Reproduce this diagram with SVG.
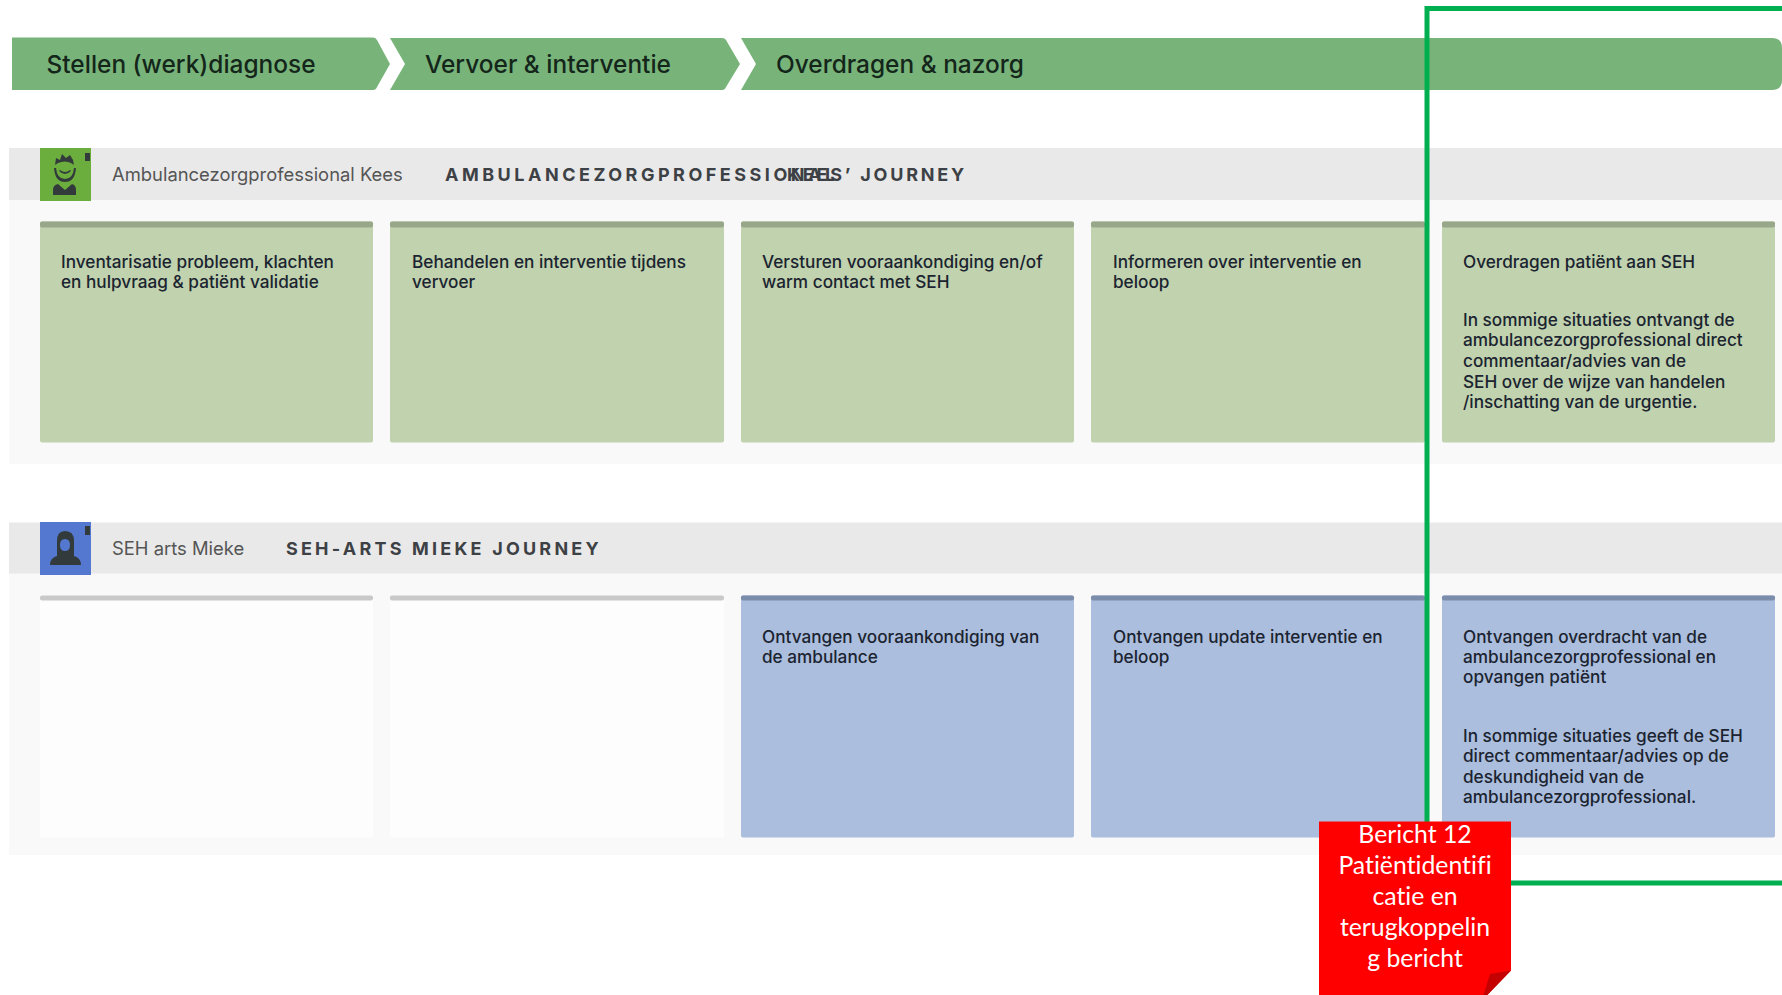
<svg xmlns="http://www.w3.org/2000/svg" width="1782" height="995" viewBox="0 0 1782 995">
<style>
.phase{fill:#78b47a}
.phase-t{font:500 24.450px Inter,"Liberation Sans",sans-serif;fill:#14261a}
.band{fill:#e9e9e9}
.lane{fill:#f9f9f9}
.role{font:400 18.400px Inter,"Liberation Sans",sans-serif;fill:#555}
.jour{font:700 18px Inter,"Liberation Sans",sans-serif;fill:#3d4145;letter-spacing:3.2px}
.c{font:500 17.200px Inter,"Liberation Sans",sans-serif;fill:#1b2430}
.g{fill:#c0d2ae}.gt{fill:#98a68a}
.b{fill:#abbedd}.bt{fill:#7c8cab}
.e{fill:#fdfdfd}.et{fill:#c9c9c9}
.ic{fill:#333a3c}
.note{font:400 24.800px Lato,"Open Sans",sans-serif;fill:#fff;text-anchor:middle;font-variant-ligatures:none}
</style>
<rect width="1782" height="995" fill="#fff"/>
<g id="phase-1"><path class="phase" d="M12 37.500H373Q376 37.500 377 40L390 64L377 87Q376 90 373 90H12Z"/><text class="phase-t" x="46.500" y="73">Stellen (werk)diagnose</text></g>
<g id="phase-2"><path class="phase" d="M390 38H405H722Q725 38 726 40L740 64L726 87Q725 90 722 90H390L405 64Z"/><text class="phase-t" x="425" y="73">Vervoer &amp; interventie</text></g>
<g id="phase-3"><path class="phase" d="M741 38H1772Q1782 38 1782 48V80Q1782 90 1772 90H741L756 64Z"/><text class="phase-t" x="776" y="73">Overdragen &amp; nazorg</text></g>
<g id="lane-1">
<rect class="lane" x="9" y="200" width="1773" height="264"/>
<rect class="band" x="9" y="148" width="1773" height="52"/>
<g id="avatar-kees"><rect x="40" y="148" width="51" height="53" fill="#6cae3e"/><rect class="ic" x="85" y="153" width="5" height="8"/>
<path class="ic" d="M55 165L56 158L60 160L62 154L66 158L70 155L73 160L74 165L71 163Q65 160 58 163Z"/><path class="ic" d="M54 168Q55 182 65 182Q75 182 76 168L74 168Q73 179 65 179Q57 179 56 168Z"/><path class="ic" d="M59 171Q65 177 71 171L70 170Q65 174 60 170Z"/><path class="ic" d="M53 195V190Q53 185 58 184L65 190L72 184Q76 185 76 190V195Z"/></g>
<text class="role" x="112" y="181">Ambulancezorgprofessional Kees</text>
<text class="jour" x="445" y="181" style="letter-spacing:3.5px">AMBULANCEZORGPROFESSIONAL</text>
<text class="jour" x="787" y="181" style="letter-spacing:2.8px">KEES’ JOURNEY</text>
</g>
<g id="card-k1"><rect class="g" x="40" y="221.500" width="333" height="221" rx="2"/><rect class="gt" x="40" y="221.500" width="333" height="6" rx="2"/><text class="c" x="61" y="268">Inventarisatie probleem, klachten</text><text class="c" x="61" y="288">en hulpvraag &amp; patiënt validatie</text></g>
<g id="card-k2"><rect class="g" x="390" y="221.500" width="334" height="221" rx="2"/><rect class="gt" x="390" y="221.500" width="334" height="6" rx="2"/><text class="c" x="412" y="268">Behandelen en interventie tijdens</text><text class="c" x="412" y="288">vervoer</text></g>
<g id="card-k3"><rect class="g" x="741" y="221.500" width="333" height="221" rx="2"/><rect class="gt" x="741" y="221.500" width="333" height="6" rx="2"/><text class="c" x="762" y="268">Versturen vooraankondiging en/of</text><text class="c" x="762" y="288">warm contact met SEH</text></g>
<g id="card-k4"><rect class="g" x="1091" y="221.500" width="334" height="221" rx="2"/><rect class="gt" x="1091" y="221.500" width="334" height="6" rx="2"/><text class="c" x="1113" y="268">Informeren over interventie en</text><text class="c" x="1113" y="288">beloop</text></g>
<g id="card-k5"><rect class="g" x="1442" y="221.500" width="333" height="221" rx="2"/><rect class="gt" x="1442" y="221.500" width="333" height="6" rx="2"/><text class="c" x="1463" y="268">Overdragen patiënt aan SEH</text><text class="c" x="1463" y="326">In sommige situaties ontvangt de</text><text class="c" x="1463" y="346">ambulancezorgprofessional direct</text><text class="c" x="1463" y="367">commentaar/advies van de</text><text class="c" x="1463" y="388">SEH over de wijze van handelen</text><text class="c" x="1463" y="407.500">/inschatting van de urgentie.</text></g>
<g id="lane-2">
<rect class="lane" x="9" y="573" width="1773" height="282"/>
<rect class="band" x="9" y="522.500" width="1773" height="51"/>
<g id="avatar-mieke"><rect x="40" y="522" width="51" height="53" fill="#5478cf"/><rect class="ic" x="85" y="526" width="5" height="9"/>
<path class="ic" fill-rule="evenodd" d="M65 531Q57 531 57 541V556Q50 558 50 565H81Q81 558 74 556V541Q74 531 65 531ZM65 539Q70 539 70 545Q70 551 65 551Q60 551 60 545Q60 539 65 539Z"/></g>
<text class="role" x="112" y="555">SEH arts Mieke</text>
<text class="jour" x="286" y="555">SEH-ARTS MIEKE JOURNEY</text>
</g>
<g id="card-m1"><rect class="e" x="40" y="595.500" width="333" height="242" rx="2"/><rect class="et" x="40" y="595.500" width="333" height="5" rx="2"/></g>
<g id="card-m2"><rect class="e" x="390" y="595.500" width="334" height="242" rx="2"/><rect class="et" x="390" y="595.500" width="334" height="5" rx="2"/></g>
<g id="card-m3"><rect class="b" x="741" y="595.500" width="333" height="242" rx="2"/><rect class="bt" x="741" y="595.500" width="333" height="5" rx="2"/><text class="c" x="762" y="642.500">Ontvangen vooraankondiging van</text><text class="c" x="762" y="663">de ambulance</text></g>
<g id="card-m4"><rect class="b" x="1091" y="595.500" width="334" height="242" rx="2"/><rect class="bt" x="1091" y="595.500" width="334" height="5" rx="2"/><text class="c" x="1113" y="642.500">Ontvangen update interventie en</text><text class="c" x="1113" y="663">beloop</text></g>
<g id="card-m5"><rect class="b" x="1442" y="595.500" width="333" height="242" rx="2"/><rect class="bt" x="1442" y="595.500" width="333" height="5" rx="2"/><text class="c" x="1463" y="642.500">Ontvangen overdracht van de</text><text class="c" x="1463" y="663">ambulancezorgprofessional en</text><text class="c" x="1463" y="683">opvangen patiënt</text><text class="c" x="1463" y="741.500">In sommige situaties geeft de SEH</text><text class="c" x="1463" y="762">direct commentaar/advies op de</text><text class="c" x="1463" y="783">deskundigheid van de</text><text class="c" x="1463" y="803">ambulancezorgprofessional.</text></g>
<g id="connectors"><path d="M1782 8.500H1427V883H1782" fill="none" stroke="#00b050" stroke-width="5"/></g>
<g id="note-12">
<path d="M1319 821.500H1511V970.500L1487 995H1319Z" fill="#f00"/>
<path d="M1511 970.500L1490 974L1483.500 995H1487.500Z" fill="#c40000"/>
<text class="note"><tspan x="1415" y="843">Bericht 12</tspan><tspan x="1415" y="874">Patiëntidentifi</tspan><tspan x="1415" y="905">catie en</tspan><tspan x="1415" y="936">terugkoppelin</tspan><tspan x="1415" y="967">g bericht</tspan></text>
</g>
</svg>
